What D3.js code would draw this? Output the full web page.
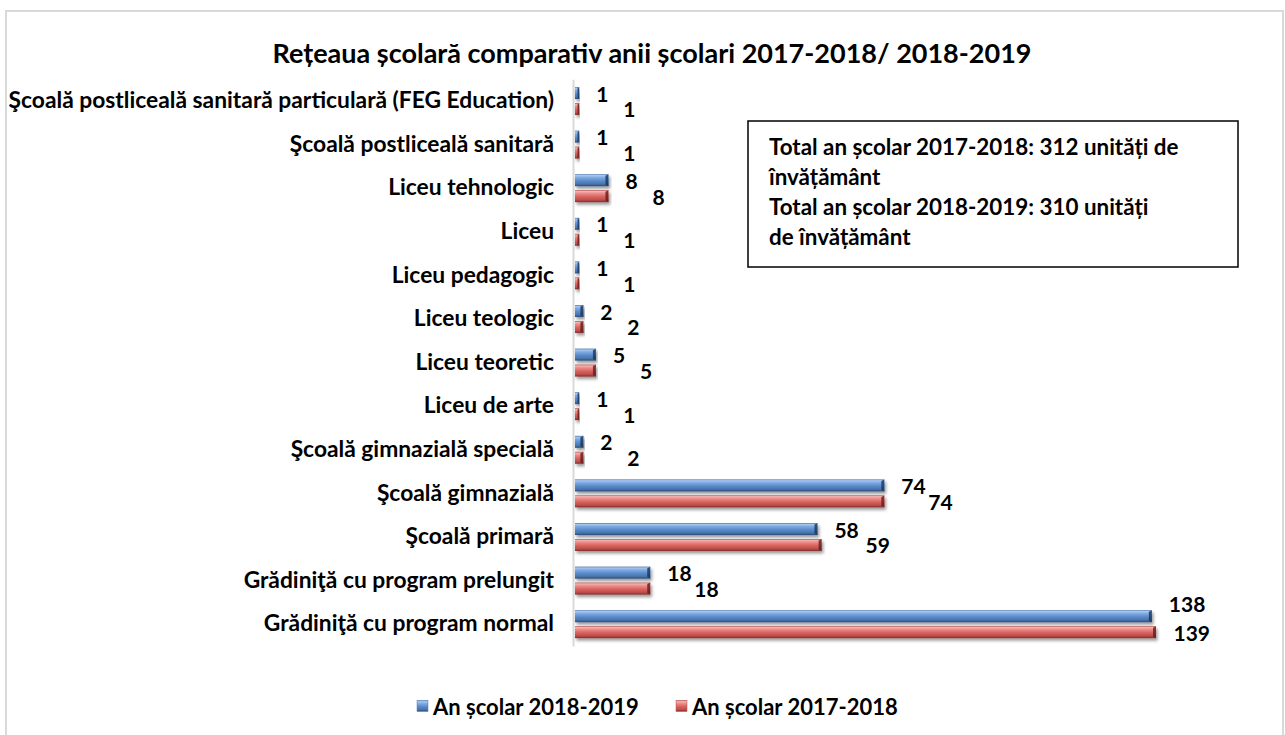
<!DOCTYPE html>
<html>
<head>
<meta charset="utf-8">
<script src="https://cdn.jsdelivr.net/npm/d3@7"></script>
<style>
  html, body { margin: 0; padding: 0; background: #fff; }
  svg { display: block; }
  text { font-family: Lato, "Open Sans", sans-serif; font-weight: 700; fill: #000; }
</style>
</head>
<body>
<svg id="chart" width="1285" height="735"></svg>
<script>
// ---------- data ----------
const categories = [
  "Şcoală postliceală sanitară particulară (FEG Education)",
  "Şcoală postliceală sanitară",
  "Liceu tehnologic",
  "Liceu",
  "Liceu pedagogic",
  "Liceu teologic",
  "Liceu teoretic",
  "Liceu de arte",
  "Şcoală gimnazială specială",
  "Şcoală gimnazială",
  "Şcoală primară",
  "Grădiniţă cu program prelungit",
  "Grădiniţă cu program normal"
];
const seriesNames = ["An școlar 2018-2019", "An școlar 2017-2018"];
const values2018_2019 = [1, 1, 8, 1, 1, 2, 5, 1, 2, 74, 58, 18, 138];
const values2017_2018 = [1, 1, 8, 1, 1, 2, 5, 1, 2, 74, 59, 18, 139];
const titleText = "Rețeaua școlară comparativ anii școlari 2017-2018/ 2018-2019";
const noteLines = [
  "Total an școlar 2017-2018: 312 unități de",
  "învățământ",
  "Total an școlar 2018-2019: 310 unități",
  "de învățământ"
];

// ---------- layout ----------
const W = 1285, H = 735;
const plot = { left: 575, right: 1210, top: 79.2, bottom: 646 };
const svg = d3.select("#chart");

const defs = svg.append("defs");
function addGrad(id, stops) {
  const g = defs.append("linearGradient").attr("id", id)
    .attr("x1", 0).attr("y1", 0).attr("x2", 0).attr("y2", 1);
  stops.forEach(s => g.append("stop").attr("offset", s[0]).attr("stop-color", s[1]));
}
addGrad("gBlue", [[0, "#3f6ca6"], [0.1, "#a8c8f0"], [0.28, "#7eaae2"], [0.55, "#5b8bcb"], [0.82, "#4874ad"], [1, "#2a4a76"]]);
addGrad("gRed", [[0, "#a84543"], [0.1, "#f3b4b2"], [0.28, "#ec8a87"], [0.55, "#d8625e"], [0.82, "#bd4d4a"], [1, "#7d2b29"]]);
addGrad("gBlueEnd", [[0, "#2f5487"], [1, "#1f3a60"]]);
addGrad("gRedEnd", [[0, "#8e3432"], [1, "#6a2220"]]);
const f = defs.append("filter").attr("id", "shadow")
  .attr("x", "-5%").attr("y", "-40%").attr("width", "115%").attr("height", "200%");
f.append("feDropShadow").attr("dx", 1.5).attr("dy", 2.5).attr("stdDeviation", 1.8)
  .attr("flood-color", "#000").attr("flood-opacity", 0.4);

const fills = ["url(#gBlue)", "url(#gRed)"];
const endFills = ["url(#gBlueEnd)", "url(#gRedEnd)"];
const legendBase = ["#4f81bd", "#c0504d"];

// outer frame
svg.append("rect").attr("x", 6).attr("y", 11).attr("width", W - 8).attr("height", H)
  .attr("fill", "#fff").attr("stroke", "#d9d9d9").attr("stroke-width", 2);

// title
svg.append("text").attr("x", 652).attr("y", 52)
  .attr("text-anchor", "middle").attr("dominant-baseline", "central")
  .style("font-size", "27px").text(titleText);

// scales
const x = d3.scaleLinear().domain([0, 160]).range([plot.left, plot.left + 4.18 * 160]);
const y = d3.scaleBand().domain(categories).range([plot.top, plot.bottom]).paddingInner(0.36).paddingOuter(0.18);
const ySub = d3.scaleBand().domain([0, 1]).range([0, y.bandwidth()]).paddingInner(0.25);

// category axis
const yAxis = d3.axisLeft(y).tickSize(0).tickPadding(19);
const ga = svg.append("g").attr("transform", `translate(${plot.left - 2},0)`).call(yAxis);
ga.select(".domain").attr("stroke", "#d9d9d9").attr("stroke-width", 2);
ga.selectAll("text").style("font-size", "22.8px").style("font-family", "Lato, sans-serif").style("font-weight", 700).attr("fill", "#000");

// bars
const data = categories.map((c, i) => ({ cat: c, vals: [values2018_2019[i], values2017_2018[i]] }));
const groups = svg.append("g").selectAll("g").data(data).join("g")
  .attr("transform", d => `translate(0,${y(d.cat)})`);

groups.each(function (d) {
  const g = d3.select(this);
  d.vals.forEach((v, s) => {
    const w = x(v) - x(0);
    const by = ySub(s), bh = ySub.bandwidth();
    const bar = g.append("g").attr("filter", "url(#shadow)");
    bar.append("rect").attr("x", x(0)).attr("y", by).attr("width", w).attr("height", bh).attr("fill", fills[s]);
    const ew = Math.min(3, w * 0.4);
    bar.append("path")
      .attr("d", `M${x(v) - ew},${by + 1.5} L${x(v)},${by} L${x(v)},${by + bh} L${x(v) - ew},${by + bh - 1.5} Z`)
      .attr("fill", endFills[s]);
  });
});

// value labels
groups.each(function (d) {
  const g = d3.select(this);
  const cy = s => ySub(s) + ySub.bandwidth() / 2;
  const blue = g.append("text").attr("x", x(d.vals[0]) + 17).attr("y", cy(0))
    .attr("dominant-baseline", "central").style("font-size", "21px").text(d.vals[0]);
  const red = g.append("text").attr("y", cy(1)).attr("dominant-baseline", "central")
    .style("font-size", "21px").text(d.vals[1]);
  const tw = red.node().getComputedTextLength();
  let rx = x(d.vals[1]) + 44;
  let clamped = false;
  if (rx + tw > plot.right) { rx = Math.max(x(d.vals[1]) + 16, plot.right - tw); clamped = true; }
  red.attr("x", rx);
  if (clamped) blue.attr("y", cy(0) - 13);
});

// note box
const nb = svg.append("g");
nb.append("rect").attr("x", 748).attr("y", 121).attr("width", 490).attr("height", 146)
  .attr("fill", "#fff").attr("stroke", "#000").attr("stroke-width", 1.5);
nb.selectAll("text").data(noteLines).join("text")
  .attr("x", 769).attr("y", (d, i) => 146 + i * 30)
  .attr("dominant-baseline", "central").style("font-size", "22.4px").text(d => d);

// legend
const legendX = [417, 676];
const lg = svg.append("g").selectAll("g").data(seriesNames).join("g")
  .attr("transform", (d, i) => `translate(${legendX[i]},706)`);
lg.append("rect").attr("x", 0).attr("y", -5.5).attr("width", 11).attr("height", 11)
  .attr("fill", (d, i) => fills[i]).attr("stroke", (d, i) => legendBase[i]).attr("stroke-width", 0.5);
lg.append("text").attr("x", 16).attr("y", 0).attr("dominant-baseline", "central")
  .style("font-size", "22px").text(d => d);
</script>
</body>
</html>
